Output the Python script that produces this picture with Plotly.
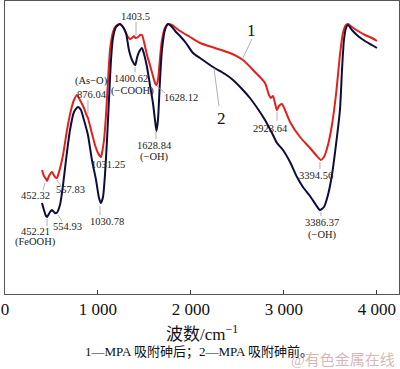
import plotly.graph_objects as go

# Curve 1 (red): MPA after arsenic adsorption
wn_red = [398, 419, 441, 452, 473, 505, 538, 558, 581, 624, 667, 710, 742, 774, 806, 849, 876, 892,
          925, 968, 1000, 1031, 1043, 1065, 1086, 1108, 1129, 1161, 1194, 1237, 1269, 1301, 1323, 1344,
          1366, 1387, 1403, 1430, 1452, 1473, 1495, 1527, 1559, 1591, 1613, 1628, 1645, 1667, 1688,
          1720, 1753, 1796, 1839, 1882, 1989, 2097, 2258, 2419, 2559, 2688, 2796, 2839, 2860, 2882,
          2903, 2924, 2946, 2978, 3011, 3065, 3172, 3280, 3344, 3395, 3430, 3473, 3516, 3559, 3602,
          3634, 3667, 3688, 3731, 3796, 3871, 3946, 4000]
t_red = [125, 119, 116, 114, 119, 123, 118, 117, 123, 140, 165, 185, 195, 200, 195, 187, 180, 177,
         165, 150, 142, 138, 142, 155, 180, 215, 245, 263, 269, 271, 268, 262, 258, 256,
         257, 259, 257, 258, 260, 260, 253, 240, 230, 219, 212, 210, 215, 237, 255,
         267, 271, 270, 267, 264, 258, 252, 247, 242, 235, 223, 212, 200, 197, 199,
         192, 185, 189, 191, 185, 173, 158, 147, 140, 135, 138, 150, 170, 200, 240,
         262, 270, 271, 268, 264, 260, 257, 254]

# Curve 2 (navy): MPA before arsenic adsorption
wn_blue = [398, 419, 441, 452, 484, 505, 538, 555, 591, 624, 656, 699, 742, 785, 817, 849, 892, 935,
           979, 1011, 1031, 1054, 1075, 1097, 1118, 1140, 1161, 1194, 1237, 1269, 1301, 1333, 1366,
           1401, 1419, 1441, 1473, 1495, 1527, 1559, 1591, 1613, 1629, 1645, 1667, 1688, 1720, 1753,
           1796, 1839, 1882, 1946, 2022, 2097, 2237, 2366, 2452, 2559, 2634, 2720, 2796, 2871, 2925,
           2989, 3065, 3140, 3204, 3280, 3344, 3386, 3430, 3473, 3516, 3559, 3602, 3624, 3645, 3667,
           3688, 3731, 3796, 3871, 3946, 4000]
t_blue = [92, 85, 79, 78, 83, 85, 82, 82, 90, 110, 135, 165, 183, 188, 185, 175, 160, 135,
          115, 97, 92, 98, 120, 155, 195, 235, 257, 268, 271, 268, 262, 245, 235,
          230, 237, 243, 247, 241, 228, 210, 192, 175, 164, 175, 215, 245, 265, 271,
          268, 263, 259, 252, 242, 237, 228, 221, 215, 205, 197, 186, 175, 162, 152,
          145, 133, 118, 108, 99, 90, 85, 88, 100, 120, 150, 185, 225, 255, 267,
          270, 265, 259, 254, 250, 247]

tick_vals = [0, 1000, 2000, 3000, 4000]
tick_text = ["0", "1 000", "2 000", "3 000", "4 000"]

# peak labels: (text, x, y)
peak_labels = [
    ("1403.5", 1398, 279), ("(As−O)", 935, 214), ("876.04", 935, 201),
    ("1400.62", 1350, 217), ("(−COOH)", 1370, 204), ("1628.12", 1893, 198),
    ("1628.84", 1613, 150), ("(−OH)", 1613, 138), ("1031.25", 1108, 131),
    ("1030.78", 1097, 74), ("452.32", 323, 100), ("557.83", 699, 106),
    ("452.21", 323, 64), ("(FeOOH)", 323, 53), ("554.93", 677, 69),
    ("2923.64", 2850, 167), ("3394.56", 3344, 120), ("3386.37", 3409, 73),
    ("(−OH)", 3409, 60),
]
curve_labels = [("1", 2656, 265), ("2", 2323, 177)]
# leader lines: (x0, y0, x1, y1)
leaders = [
    (1409, 273, 1409, 260), (892, 195, 892, 181), (1398, 228, 1398, 223),
    (1634, 209, 1720, 202), (1624, 163, 1624, 156), (1022, 89, 1022, 80),
    (430, 112, 409, 105), (559, 115, 602, 109), (452, 76, 452, 69),
    (570, 80, 613, 74), (2925, 183, 2925, 174), (3387, 133, 3387, 126),
    (3398, 83, 3398, 79), (2656, 256, 2559, 237), (2247, 227, 2301, 189),
]

SERIF = "Liberation Serif, Noto Sans CJK SC, serif"
W, H = 400, 369
ML, MR, MT, MB = 5, 1, 1, 75

fig = go.Figure()
fig.add_trace(go.Scatter(x=wn_red, y=t_red, mode="lines", hoverinfo="skip",
                         line=dict(color="#e3201b", width=2, shape="spline", smoothing=0.6)))
fig.add_trace(go.Scatter(x=wn_blue, y=t_blue, mode="lines", hoverinfo="skip",
                         line=dict(color="#0d0d3d", width=2, shape="spline", smoothing=0.6)))

for x0, y0, x1, y1 in leaders:
    fig.add_shape(type="line", x0=x0, y0=y0, x1=x1, y1=y1, xref="x", yref="y",
                  line=dict(color="#9a9a9a", width=0.8))

for txt, x, y in peak_labels:
    fig.add_annotation(x=x, y=y, text=txt, showarrow=False, xref="x", yref="y",
                       xanchor="center", yanchor="middle",
                       font=dict(family=SERIF, size=10.5, color="#222"))
for txt, x, y in curve_labels:
    fig.add_annotation(x=x, y=y, text=txt, showarrow=False, xref="x", yref="y",
                       xanchor="center", yanchor="middle",
                       font=dict(family=SERIF, size=17, color="#111"))

plot_h = H - MT - MB
plot_w = W - ML - MR
def py(ypix):
    return (H - MB - ypix) / plot_h
def px(xpix):
    return (xpix - ML) / plot_w

fig.add_annotation(x=px(202), y=py(333), xref="paper", yref="paper", text="波数/cm<sup>−1</sup>",
                   showarrow=False, xanchor="center", yanchor="middle",
                   font=dict(family=SERIF, size=17, color="#111"))
fig.add_annotation(x=px(199), y=py(352), xref="paper", yref="paper",
                   text="1—MPA 吸附砷后；2—MPA 吸附砷前。", showarrow=False,
                   xanchor="center", yanchor="middle",
                   font=dict(family=SERIF, size=13, color="#111"))
fig.add_annotation(x=px(343), y=py(360), xref="paper", yref="paper",
                   text="@有色金属在线", showarrow=False, xanchor="center", yanchor="middle",
                   font=dict(family=SERIF, size=15, color="rgba(200,150,150,0.7)"))

fig.update_layout(
    width=W, height=H,
    margin=dict(l=ML, r=MR, t=MT, b=MB, autoexpand=False),
    paper_bgcolor="white", plot_bgcolor="white",
    showlegend=False,
    xaxis=dict(range=[0, 4237], tickvals=tick_vals, ticktext=tick_text, ticks="inside",
               ticklen=4, tickcolor="#333", showline=True, linecolor="#555", linewidth=1,
               mirror=True, showgrid=False, zeroline=False, automargin=False,
               tickfont=dict(family=SERIF, size=17, color="#111")),
    yaxis=dict(range=[1, 294], showticklabels=False, ticks="", showline=True,
               linecolor="#555", linewidth=1, mirror=True, showgrid=False, zeroline=False,
               automargin=False),
)

fig.write_html("out.html", config={"displayModeBar": False},
               post_script="document.body.style.margin='0';document.body.style.overflow='hidden';")
